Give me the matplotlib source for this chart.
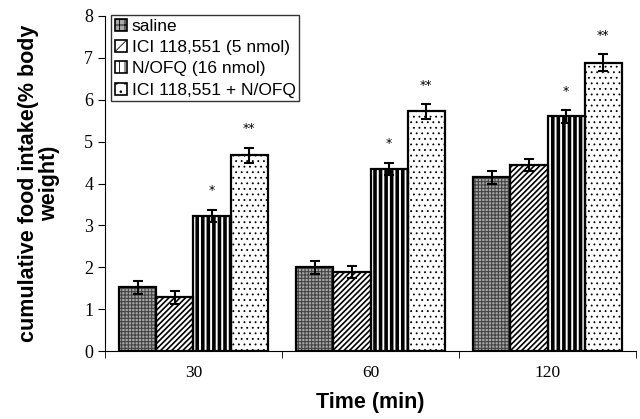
import numpy as np
import matplotlib
matplotlib.use('Agg')
import matplotlib.pyplot as plt
from matplotlib.patches import Patch

# Data
times = ['30', '60', '120']
groups = ['saline', 'ICI 118,551 (5 nmol)', 'N/OFQ (16 nmol)', 'ICI 118,551 + N/OFQ']
saline = [1.52, 2.00, 4.15]
ici = [1.28, 1.88, 4.45]
nofq = [3.22, 4.35, 5.60]
combo = [4.67, 5.72, 6.88]
saline_err = [0.15, 0.15, 0.15]
ici_err = [0.15, 0.14, 0.14]
nofq_err = [0.15, 0.15, 0.15]
combo_err = [0.18, 0.17, 0.20]
stars = [['', '', '*', '**'], ['', '', '*', '**'], ['', '', '*', '**']]

fig = plt.figure(figsize=(6.4, 4.19), dpi=100)
ax = fig.add_axes([0.164, 0.162, 0.83, 0.80])

values = [saline, ici, nofq, combo]
errors = [saline_err, ici_err, nofq_err, combo_err]
faces = ['#a8a8a8', 'white', 'white', 'white']
hatch_cols = ['#444444', 'black', 'black', 'black']
hatches = ['+++++', '//////', '|||', '...']
hatch_lw = [0.8, 1.2, 2.6, 0.6]
width = 0.21
x = np.arange(len(times))

for i in range(4):
    pos = x + (i - 1.5) * width
    plt.rcParams['hatch.linewidth'] = hatch_lw[i]
    # fill + hatch pattern
    ax.bar(pos, values[i], width, color=faces[i], edgecolor=hatch_cols[i],
           hatch=hatches[i], linewidth=0, zorder=2)
    # black outline
    ax.bar(pos, values[i], width, fill=False, edgecolor='black',
           linewidth=1.6, zorder=2.5)
    ax.errorbar(pos, values[i], yerr=errors[i], fmt='none', ecolor='black',
                elinewidth=1.5, capsize=3.5, capthick=1.5, zorder=3)
    for j in range(len(times)):
        s = stars[j][i]
        if s:
            ax.text(pos[j], values[i][j] + errors[i][j] + 0.3, s, ha='center',
                    va='bottom', fontsize=9)

# legend handles
leg_hatches = ['+++', '///', '|||', '..']
leg_lw = [0.8, 1.0, 1.8, 0.6]
handles = []
for i in range(4):
    plt.rcParams['hatch.linewidth'] = leg_lw[i]
    handles.append(Patch(facecolor=faces[i], edgecolor='black',
                         hatch=leg_hatches[i], linewidth=1.2))

ax.set_xlim(-0.5, 2.5)
ax.set_ylim(0, 8)
ax.set_yticks(range(9))
ax.set_xticks(x)
ax.set_xticklabels(times)
ax.set_xticks([-0.5, 0.5, 1.5, 2.5], minor=True)
ax.tick_params(axis='x', which='major', length=0, pad=10)
ax.tick_params(axis='x', which='minor', length=5, direction='out')
ax.tick_params(axis='y', length=5, direction='out')
for lab in ax.get_xticklabels() + ax.get_yticklabels():
    lab.set_fontfamily('Liberation Serif')
    lab.set_fontsize(13)
for lab in ax.get_xticklabels():
    lab.set_fontsize(12.5)

ax.spines['top'].set_visible(False)
ax.spines['right'].set_visible(False)

ax.set_ylabel('cumulative food intake(% body\nweight)', fontsize=15.5,
              fontweight='bold', family='Liberation Sans', labelpad=17,
              linespacing=1.0)
ax.set_xlabel('Time (min)', fontsize=15.5, fontweight='bold',
              family='Liberation Sans', labelpad=8)

leg = ax.legend(handles, groups, loc='upper left', bbox_to_anchor=(0.005, 1.012),
                frameon=True, fancybox=False, edgecolor='black', handlelength=0.7,
                handleheight=0.7, handletextpad=0.3, borderpad=0.2,
                borderaxespad=0.2, labelspacing=0.35,
                prop={'family': 'Liberation Sans', 'size': 12.5})
leg.get_frame().set_linewidth(1.0)

fig.savefig('out.png', dpi=100)
